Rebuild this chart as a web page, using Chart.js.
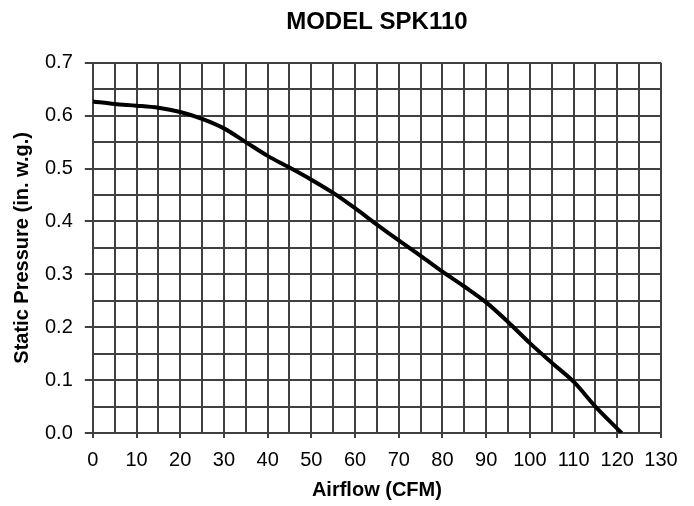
<!DOCTYPE html>
<html>
<head>
<meta charset="utf-8">
<script src="https://cdn.jsdelivr.net/npm/chart.js@4/dist/chart.umd.min.js"></script>
<style>
  html, body { margin: 0; padding: 0; background: #fff; }
  #wrap { width: 694px; height: 506px; }
</style>
</head>
<body>
<div id="wrap"><canvas id="fanCurveChart" width="694" height="506"></canvas></div>
<script>
  const airflow = [0, 5, 10, 15, 20, 25, 30, 35, 40, 45, 50, 55, 60, 65, 70, 75, 80, 85, 90, 95, 100, 105, 110, 115, 121];
  const pressure = [0.627, 0.622, 0.619, 0.615, 0.607, 0.594, 0.576, 0.550, 0.524, 0.502, 0.479, 0.454, 0.425, 0.394, 0.364, 0.335, 0.305, 0.277, 0.247, 0.210, 0.170, 0.133, 0.097, 0.050, 0.0];

  const gridColor = "#404040";
  const family = "'Liberation Sans', Arial, sans-serif";
  const tickFont = { family: family, size: 20 };
  const axisTitleFont = { family: family, size: 20, weight: "bold" };

  const isMajorX = (v) => Math.round(v) % 10 === 0;
  const isMajorY = (v) => Math.round(v * 100) % 10 === 0;

  new Chart(document.getElementById("fanCurveChart"), {
    type: "scatter",
    data: {
      datasets: [
        {
          label: "SPK110",
          data: airflow.map((x, i) => ({ x: x, y: pressure[i] })),
          showLine: true,
          borderColor: "#000",
          borderWidth: 4,
          pointRadius: 0,
          cubicInterpolationMode: "monotone",
        },
      ],
    },
    options: {
      responsive: false,
      animation: false,
      layout: { padding: { left: 0, right: 33, top: 0, bottom: 0 } },
      plugins: {
        legend: { display: false },
        tooltip: { enabled: false },
        title: {
          display: true,
          text: "MODEL SPK110",
          color: "#000",
          font: { family: family, size: 24, weight: "bold" },
          fullSize: false,
          padding: { top: 8, bottom: 26 },
        },
      },
      scales: {
        x: {
          type: "linear",
          min: 0,
          max: 130,
          border: { color: gridColor, width: 2 },
          grid: {
            color: gridColor,
            lineWidth: 2,
            tickLength: 5,
            tickColor: (c) => (isMajorX(c.tick.value) ? gridColor : "transparent"),
          },
          ticks: {
            stepSize: 5,
            color: "#000",
            font: tickFont,
            padding: 10,
            maxRotation: 0,
            autoSkip: false,
            callback: (v) => (isMajorX(v) ? String(v) : ""),
          },
          title: {
            display: true,
            text: "Airflow (CFM)",
            color: "#000",
            font: axisTitleFont,
            padding: { top: -4, bottom: 4 },
          },
        },
        y: {
          min: 0,
          max: 0.7,
          border: { color: gridColor, width: 2 },
          grid: {
            color: gridColor,
            lineWidth: 2,
            tickLength: 8,
            tickColor: (c) => (isMajorY(c.tick.value) ? gridColor : "transparent"),
          },
          ticks: {
            stepSize: 0.05,
            color: "#000",
            font: tickFont,
            padding: 12,
            autoSkip: false,
            callback: (v) => (isMajorY(v) ? v.toFixed(1) : ""),
          },
          title: {
            display: true,
            text: "Static Pressure (in. w.g.)",
            color: "#000",
            font: axisTitleFont,
            padding: { top: 10, bottom: -1 },
          },
        },
      },
    },
  });
</script>
</body>
</html>
